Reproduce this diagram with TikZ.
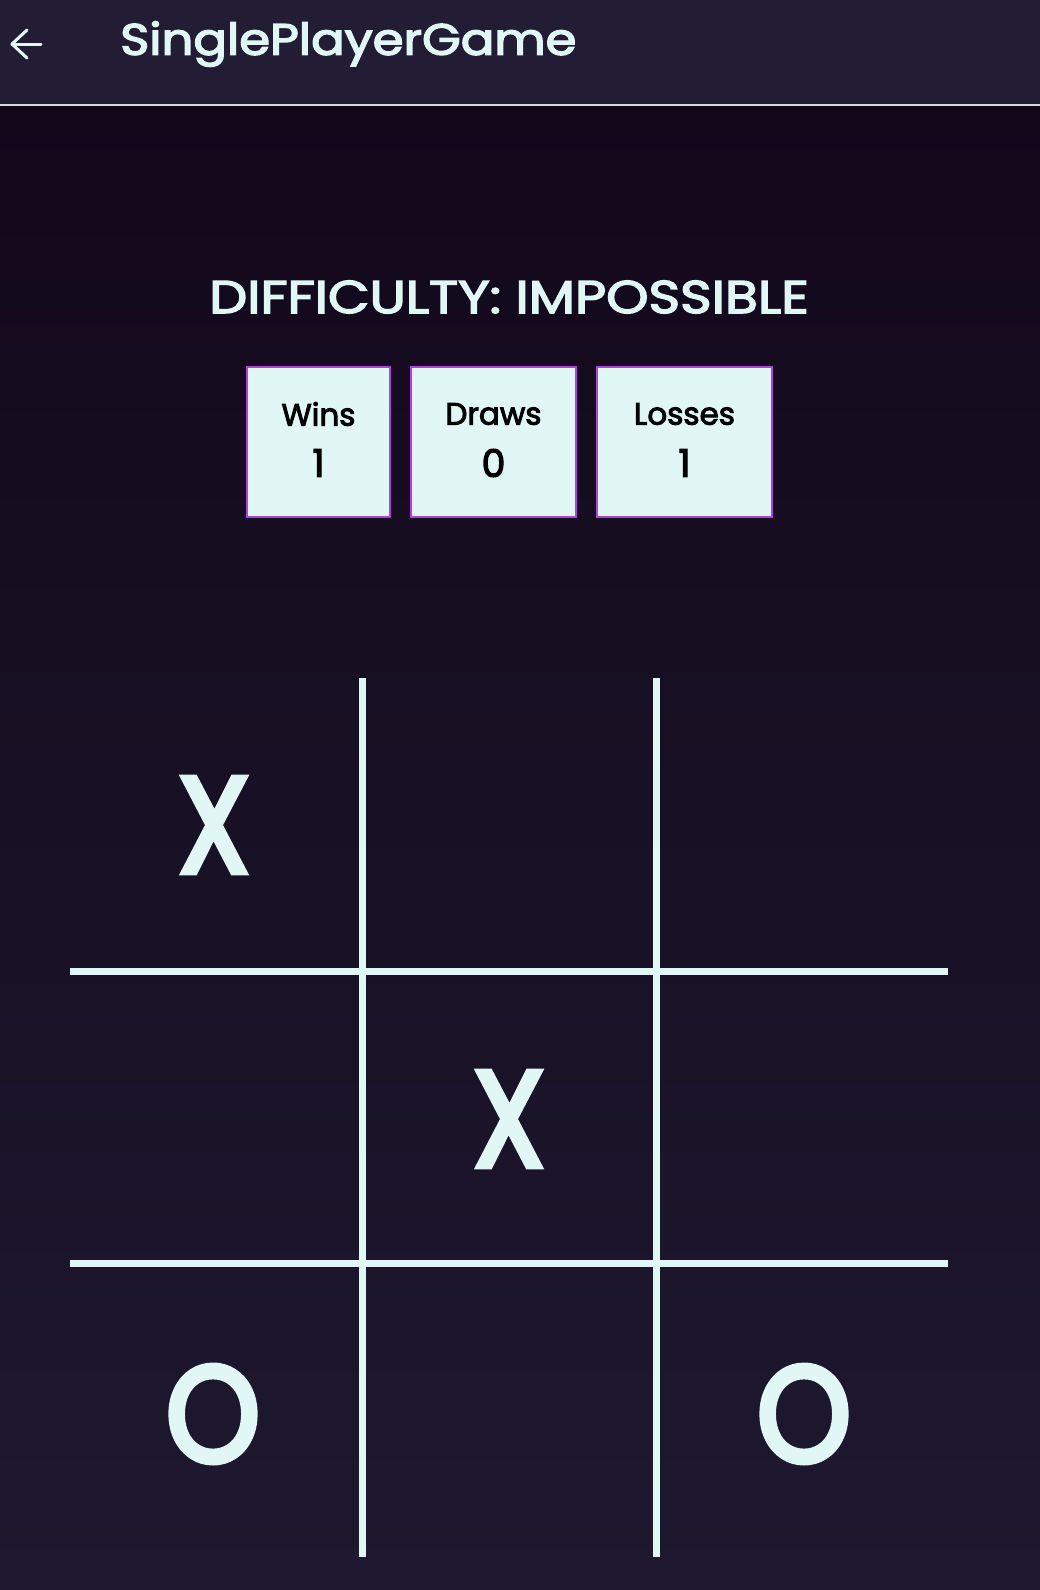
\documentclass[tikz,border=0pt]{standalone}
\usepackage{fontspec}
\setmainfont{Poppins}
\newfontfamily\medfont{Poppins}[FakeBold=3]
\newfontfamily\glyphfont{Poppins}[FakeBold=4.5]
\usetikzlibrary{shadings}
\definecolor{hdr}{HTML}{221D35}
\definecolor{bgtop}{HTML}{13081A}
\definecolor{bgbot}{HTML}{1E1930}
\definecolor{ink}{HTML}{E0F7F5}
\definecolor{rim}{HTML}{B040E0}
\definecolor{sep}{HTML}{D8D8E0}
\tikzset{
  statbox/.style={draw=rim, line width=2pt, fill=ink},
  statlabel/.style={text=black, font=\medfont\fontsize{31}{31}\selectfont},
  statnum/.style={text=black, font=\medfont\fontsize{38}{38}\selectfont},
  gridline/.style={draw=ink, line width=7pt},
  glyph/.style={text=ink, font=\glyphfont\fontsize{136}{136}\selectfont, inner sep=0pt},
}
\begin{document}
\begin{tikzpicture}[x=1pt,y=-1pt]
\useasboundingbox (0,0) rectangle (1040,1590);
% backgrounds
\shade[top color=bgtop, bottom color=bgbot] (0,105) rectangle (1040,1590);
\fill[hdr] (0,0) rectangle (1040,105);
\draw[sep, line width=2pt] (0,105) -- (1040,105);
% back arrow
\coordinate (atip) at (12,44);
\coordinate (atail) at (41,44);
\coordinate (aup) at (27,30);
\coordinate (adn) at (27,58);
\draw[ink, line width=3pt, line cap=round, line join=round] (aup) -- (atip) -- (adn);
\draw[ink, line width=3pt, line cap=round] (atip) -- (atail);
% title
\node[anchor=west, text=ink, font=\medfont\fontsize{44}{44}\selectfont, inner sep=0pt] (title) at (120,44) {\scalebox{1.13}[1]{SinglePlayerGame}};
% difficulty
\node[text=ink, font=\medfont\fontsize{46}{46}\selectfont, inner sep=0pt] (diff) at (509,297) {\scalebox{1.17}[1]{DIFFICULTY: IMPOSSIBLE}};
% stat boxes
\draw[statbox] (247,367) rectangle (390,517);
\draw[statbox] (411,367) rectangle (576,517);
\draw[statbox] (597,367) rectangle (772,517);
\node[statlabel] (winsl) at (318.5,414) {Wins};
\node[statnum] (winsn) at (318.5,463) {1};
\node[statlabel] (drawsl) at (493.5,414) {Draws};
\node[statnum] (drawsn) at (493.5,463) {0};
\node[statlabel] (lossl) at (684.5,414) {Losses};
\node[statnum] (lossn) at (684.5,463) {1};
% grid
\coordinate (v1t) at (362,678);
\coordinate (v1b) at (362,1557);
\coordinate (v2t) at (656,678);
\coordinate (v2b) at (656,1557);
\coordinate (h1l) at (70,971);
\coordinate (h1r) at (948,971);
\coordinate (h2l) at (70,1263);
\coordinate (h2r) at (948,1263);
\draw[gridline] (v1t) -- (v1b);
\draw[gridline] (v2t) -- (v2b);
\draw[gridline] (h1l) -- (h1r);
\draw[gridline] (h2l) -- (h2r);
% marks
\node[glyph] (x1) at (214,825) {\scalebox{0.85}[1]{X}};
\node[glyph] (x2) at (509,1119) {\scalebox{0.85}[1]{X}};
\node[glyph] (o1) at (213,1414) {\scalebox{0.88}[1]{O}};
\node[glyph] (o2) at (804,1414) {\scalebox{0.88}[1]{O}};
\end{tikzpicture}
\end{document}
